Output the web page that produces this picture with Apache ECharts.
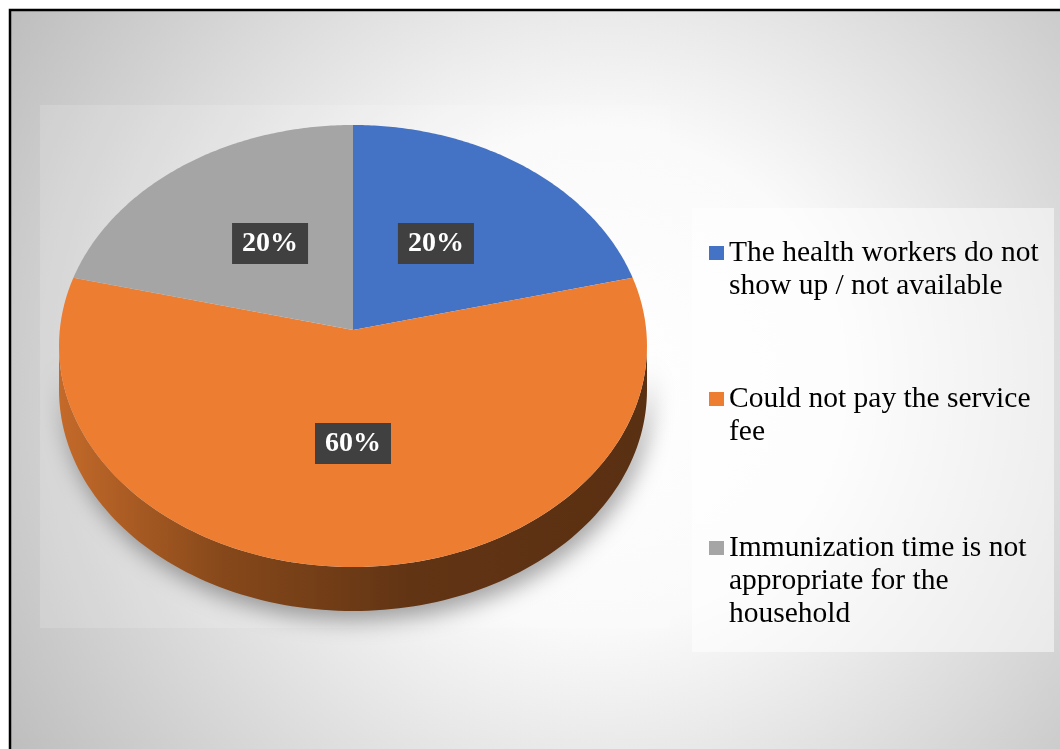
<!DOCTYPE html>
<html>
<head>
<meta charset="utf-8">
<script src="https://cdn.jsdelivr.net/npm/echarts@6/dist/echarts.min.js"></script>
<style>
html,body{margin:0;padding:0;background:#fff;}
#chart{width:1060px;height:749px;}
</style>
</head>
<body>
<div id="chart"></div>
<script>
// ---- data ----
const categories = [
  'The health workers do not show up / not available',
  'Could not pay the service fee',
  'Immunization time is not appropriate for the household'
];
const legendLines = [
  ['The health workers do not', 'show up / not available'],
  ['Could not pay the service', 'fee'],
  ['Immunization time is not', 'appropriate for the', 'household']
];
const values = [20, 60, 20];
const colors = ['#4472C4', '#ED7D31', '#A5A5A5'];

// ---- geometry / style ----
const CX = 353, CY = 346, RX = 294, RY = 221, APEX_Y = 330, DEPTH = 44;
const total = values.reduce((a, b) => a + b, 0);
const cum = [0];
values.forEach(v => cum.push(cum[cum.length - 1] + v));

function pt(theta, dy) {
  const r = theta * Math.PI / 180;
  return [CX + RX * Math.sin(r), CY - RY * Math.cos(r) + (dy || 0)];
}

function makeRender(i) {
  return function (params, api) {
    const start = cum[i] / total * 360;
    const end = cum[i + 1] / total * 360;
    const children = [];
    const N = 120;
    // side wall (front half only)
    const a = Math.max(start, 90), b = Math.min(end, 270);
    if (b > a) {
      const side = [];
      for (let k = 0; k <= N; k++) side.push(pt(a + (b - a) * k / N));
      for (let k = N; k >= 0; k--) side.push(pt(a + (b - a) * k / N, DEPTH));
      children.push({
        type: 'polygon',
        shape: { points: side },
        style: {
          fill: {
            type: 'linear', x: 0, y: 0, x2: 1, y2: 0,
            colorStops: [
              { offset: 0, color: '#c46a2a' },
              { offset: 0.28, color: '#86481a' },
              { offset: 0.6, color: '#613414' },
              { offset: 1, color: '#5a3012' }
            ]
          },
          shadowBlur: 22, shadowColor: 'rgba(0,0,0,0.35)', shadowOffsetY: 10, shadowOffsetX: 4
        }
      });
    }
    // top face
    const top = [[CX, APEX_Y]];
    for (let k = 0; k <= N; k++) top.push(pt(start + (end - start) * k / N));
    children.push({
      type: 'polygon',
      shape: { points: top },
      style: { fill: colors[i] }
    });
    // label
    const mid = (start + end) / 2 * Math.PI / 180;
    const lx = CX + RX * 0.48 * Math.sin(mid);
    const ly = APEX_Y - RY * 0.5 * Math.cos(mid) + 3;
    children.push({
      type: 'text',
      x: lx, y: ly,
      style: {
        text: Math.round(values[i] / total * 100) + '%',
        fontFamily: 'Liberation Serif', fontWeight: 'bold', fontSize: 28,
        fill: '#fff', align: 'center', verticalAlign: 'middle',
        backgroundColor: '#404040', padding: [7, 10, 6, 10],
        boxShadowBlur: 8, boxShadowColor: 'rgba(0,0,0,0.5)',
        boxShadowOffsetX: 4, boxShadowOffsetY: 4
      }
    });
    return { type: 'group', children };
  };
}

const series = categories.map((name, i) => ({
  type: 'custom',
  name: name,
  coordinateSystem: 'none',
  data: [values[i]],
  itemStyle: { color: colors[i] },
  renderItem: makeRender(i),
  silent: true,
  z: 3
}));

const lineH = 33;
const firstLineCenters = [253, 399, 548];
const legends = categories.map((name, i) => {
  const n = legendLines[i].length;
  const blanks = new Array(n - 1).fill(' ');
  return {
    data: [name],
    left: 709,
    top: firstLineCenters[i] - (2 * n - 1) * lineH / 2,
    padding: 0,
    orient: 'vertical',
    icon: 'rect',
    itemWidth: 15, itemHeight: 14,
    selectedMode: false,
    formatter: () => blanks.concat(legendLines[i]).join('\n'),
    textStyle: { fontFamily: 'Liberation Serif', fontSize: 29.5, lineHeight: lineH, color: '#000' }
  };
});

const chart = echarts.init(document.getElementById('chart'), null, { renderer: 'canvas' });
chart.setOption({
  animation: false,
  backgroundColor: '#ffffff',
  graphic: [
    {
      type: 'rect', z: -10,
      shape: { x: 10, y: 10, width: 1100, height: 800 },
      style: {
        fill: {
          type: 'radial', x: 600, y: 380, r: 700, global: true,
          colorStops: [
            { offset: 0, color: '#ffffff' },
            { offset: 0.35, color: '#fafafa' },
            { offset: 1, color: '#bdbdbd' }
          ]
        },
        stroke: '#000', lineWidth: 2.5
      },
      silent: true
    },
    {
      type: 'rect', z: -8,
      shape: { x: 40, y: 105, width: 630, height: 523 },
      style: { fill: 'rgba(255,255,255,0.15)' },
      silent: true
    },
    {
      type: 'rect', z: -5,
      shape: { x: 692, y: 208, width: 362, height: 444 },
      style: { fill: 'rgba(255,255,255,0.5)' },
      silent: true
    }
  ],
  legend: legends,
  series: series
});
</script>
</body>
</html>
